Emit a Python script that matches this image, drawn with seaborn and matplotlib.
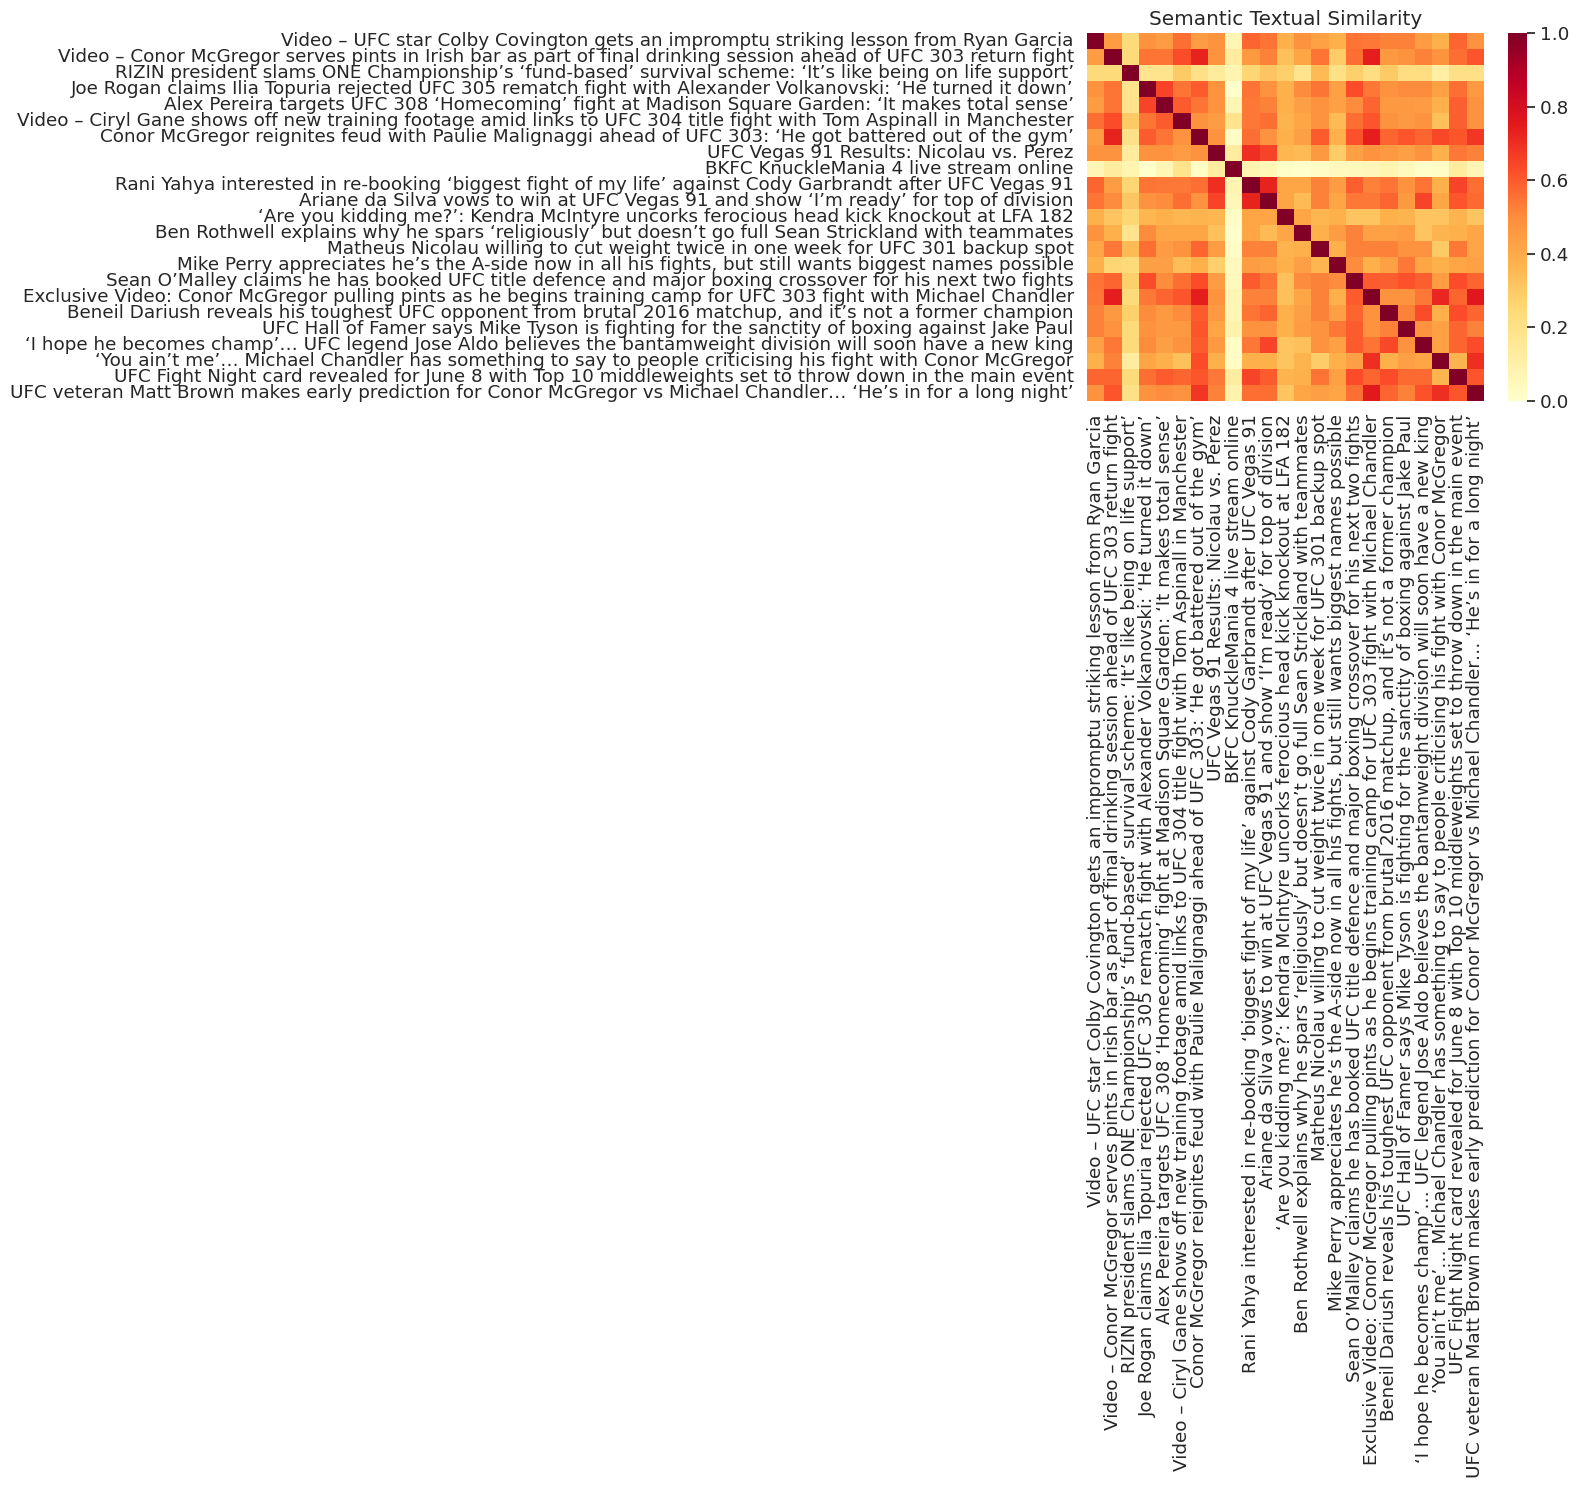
import numpy as np
import pandas as pd
import matplotlib
matplotlib.use("Agg")
import matplotlib.pyplot as plt
import seaborn as sns

titles = [
    "Video – UFC star Colby Covington gets an impromptu striking lesson from Ryan Garcia",
    "Video – Conor McGregor serves pints in Irish bar as part of final drinking session ahead of UFC 303 return fight",
    "RIZIN president slams ONE Championship’s ‘fund-based’ survival scheme: ‘It’s like being on life support’",
    "Joe Rogan claims Ilia Topuria rejected UFC 305 rematch fight with Alexander Volkanovski: ‘He turned it down’",
    "Alex Pereira targets UFC 308 ‘Homecoming’ fight at Madison Square Garden: ‘It makes total sense’",
    "Video – Ciryl Gane shows off new training footage amid links to UFC 304 title fight with Tom Aspinall in Manchester",
    "Conor McGregor reignites feud with Paulie Malignaggi ahead of UFC 303: ‘He got battered out of the gym’",
    "UFC Vegas 91 Results: Nicolau vs. Perez",
    "BKFC KnuckleMania 4 live stream online",
    "Rani Yahya interested in re-booking ‘biggest fight of my life’ against Cody Garbrandt after UFC Vegas 91",
    "Ariane da Silva vows to win at UFC Vegas 91 and show ‘I’m ready’ for top of division",
    "‘Are you kidding me?’: Kendra McIntyre uncorks ferocious head kick knockout at LFA 182",
    "Ben Rothwell explains why he spars ‘religiously’ but doesn’t go full Sean Strickland with teammates",
    "Matheus Nicolau willing to cut weight twice in one week for UFC 301 backup spot",
    "Mike Perry appreciates he’s the A-side now in all his fights, but still wants biggest names possible",
    "Sean O’Malley claims he has booked UFC title defence and major boxing crossover for his next two fights",
    "Exclusive Video: Conor McGregor pulling pints as he begins training camp for UFC 303 fight with Michael Chandler",
    "Beneil Dariush reveals his toughest UFC opponent from brutal 2016 matchup, and it’s not a former champion",
    "UFC Hall of Famer says Mike Tyson is fighting for the sanctity of boxing against Jake Paul",
    "‘I hope he becomes champ’… UFC legend Jose Aldo believes the bantamweight division will soon have a new king",
    "‘You ain’t me’… Michael Chandler has something to say to people criticising his fight with Conor McGregor",
    "UFC Fight Night card revealed for June 8 with Top 10 middleweights set to throw down in the main event",
    "UFC veteran Matt Brown makes early prediction for Conor McGregor vs Michael Chandler… ‘He’s in for a long night’",
]

# cosine similarity between headline embeddings
similarity = [
    [1, .45, .24, .48, .45, .56, .45, .48, .07, .58, .55, .38, .48, .43, .38, .55, .54, .52, .52, .45, .38, .58, .48],
    [.45, 1, .24, .55, .55, .63, .73, .48, .13, .46, .52, .33, .42, .55, .29, .56, .74, .46, .48, .52, .48, .56, .61],
    [.24, .24, 1, .18, .18, .3, .2, .14, .08, .26, .32, .28, .18, .35, .2, .28, .22, .3, .22, .22, .12, .2, .2],
    [.48, .55, .18, 1, .65, .55, .6, .48, .0, .55, .48, .38, .5, .55, .43, .63, .54, .48, .5, .5, .43, .56, .46],
    [.45, .55, .18, .65, 1, .6, .55, .48, .07, .54, .52, .38, .44, .48, .43, .5, .58, .46, .46, .45, .38, .59, .48],
    [.56, .63, .3, .55, .6, 1, .48, .45, .18, .54, .56, .37, .42, .48, .35, .56, .61, .48, .46, .48, .33, .59, .48],
    [.45, .73, .2, .6, .55, .48, 1, .48, .02, .56, .48, .38, .44, .6, .38, .62, .74, .58, .61, .58, .64, .61, .68],
    [.48, .48, .14, .48, .48, .45, .48, 1, .13, .7, .65, .36, .35, .46, .29, .44, .48, .46, .44, .48, .38, .54, .52],
    [.07, .13, .08, .0, .07, .18, .02, .13, 1, .08, .06, .01, .0, .02, .04, .05, .06, .08, .04, .01, .02, .13, .07],
    [.58, .45, .26, .55, .54, .54, .56, .7, .08, 1, .73, .42, .42, .52, .45, .59, .52, .55, .48, .55, .38, .65, .56],
    [.55, .5, .31, .48, .5, .56, .48, .65, .06, .73, 1, .42, .35, .52, .42, .54, .54, .58, .46, .65, .42, .61, .57],
    [.38, .32, .26, .36, .38, .36, .37, .36, .02, .42, .42, 1, .42, .36, .38, .32, .32, .38, .37, .32, .32, .37, .32],
    [.48, .38, .18, .5, .42, .42, .42, .33, .0, .42, .35, .42, 1, .38, .45, .52, .43, .43, .45, .32, .37, .38, .42],
    [.42, .54, .35, .56, .45, .48, .58, .45, .02, .52, .52, .37, .38, 1, .38, .52, .52, .52, .48, .48, .3, .54, .42],
    [.38, .26, .24, .44, .44, .34, .38, .28, .04, .45, .43, .38, .44, .36, 1, .5, .38, .43, .54, .42, .38, .42, .43],
    [.55, .58, .28, .63, .5, .56, .63, .45, .04, .6, .55, .33, .5, .52, .5, 1, .6, .59, .62, .59, .45, .63, .58],
    [.54, .74, .24, .54, .58, .61, .74, .48, .07, .52, .52, .33, .42, .52, .38, .6, 1, .48, .48, .54, .72, .58, .76],
    [.52, .46, .28, .5, .46, .5, .6, .46, .07, .55, .58, .38, .44, .52, .44, .58, .48, 1, .52, .63, .38, .63, .58],
    [.52, .48, .24, .48, .46, .46, .61, .42, .09, .48, .48, .38, .45, .48, .54, .6, .48, .52, 1, .48, .43, .58, .52],
    [.43, .54, .24, .5, .44, .48, .6, .46, .02, .54, .65, .32, .33, .48, .43, .6, .55, .64, .48, 1, .43, .58, .63],
    [.38, .52, .13, .42, .38, .33, .63, .38, .02, .38, .38, .32, .37, .29, .38, .44, .7, .38, .44, .42, 1, .37, .7],
    [.58, .58, .24, .56, .6, .58, .61, .54, .13, .65, .6, .37, .38, .55, .43, .63, .58, .63, .57, .57, .37, 1, .61],
    [.48, .61, .2, .48, .5, .48, .68, .52, .09, .56, .56, .32, .42, .44, .42, .56, .75, .58, .52, .62, .7, .61, 1],
]

sns.set_theme(font_scale=1.2)
plt.rcParams['font.family'] = ['DejaVu Sans']

df = pd.DataFrame(np.array(similarity), index=titles, columns=titles)

fig = plt.figure(figsize=(15.79, 14.89), dpi=100)
ax = fig.add_axes([0.6884, 0.7307, 0.2514, 0.2471])
cax = fig.add_axes([0.955, 0.7307, 0.012, 0.2471])

sns.heatmap(df, cmap="YlOrRd", vmin=0, vmax=1, ax=ax, cbar_ax=cax,
            xticklabels=titles, yticklabels=titles)
ax.set_title("Semantic Textual Similarity")

fig.savefig("out.png", dpi=100)
